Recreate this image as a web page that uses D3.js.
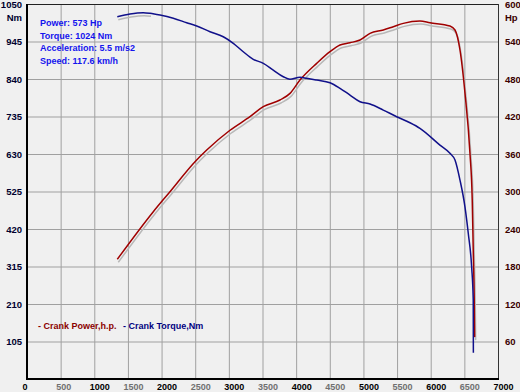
<!DOCTYPE html>
<html><head><meta charset="utf-8">
<script src="https://cdn.jsdelivr.net/npm/d3@7"></script>
<style>
body{margin:0;background:#f0f0f0;}
svg{display:block;font-family:"Liberation Sans",Arial,sans-serif;}
</style></head>
<body><svg id="c" width="520" height="392"></svg>
<script>
const rpmTicks = [0,500,1000,1500,2000,2500,3000,3500,4000,4500,5000,5500,6000,6500,7000];
const nmTicks = [105,210,315,420,525,630,735,840,945,1050];
const hpTicks = [60,120,180,240,300,360,420,480,540,600];

const powerRpm = [1342,1877,2125,2497,2671,3017,3314,3512,3760,3909,4057,4305,4503,4652,4800,4949,5098,5295,5444,5592,5840,5989,6286,6361,6435,6509,6583,6617,6632,6647,6653];
const powerHp  = [191.5,267.7,299.7,347.7,366.4,398,419.7,435.7,446.4,457,478.4,505,523.7,534.4,538,542.4,553,558.4,563.7,569,572.8,570,564.8,558.4,526.4,457.6,361.6,286.4,206.4,126.4,67];

const torqueRpm = [1342,1531,1728,1828,1977,2174,2373,2522,2720,2917,3066,3214,3363,3512,3660,3809,3908,4057,4157,4305,4503,4652,4800,4949,5098,5295,5494,5692,5840,6137,6286,6361,6435,6509,6558,6608,6632,6634];
const torqueNm  = [1014.4,1022,1025.6,1024,1019,1010,997.6,988.4,972.4,958.4,940,916.4,895.2,884,865,846.4,839,844.8,842,837,829.6,814,795,776.4,770,753,734.4,717.6,702,655,632,613,557,482,408,314.6,221,73.6];

const infoLines = ["Power: 573 Hp","Torque: 1024 Nm","Acceleration: 5.5 m/s2","Speed: 117.6 km/h"];
const legendItems = [{label:"- Crank Power,h.p.", color:"#8b0000"},{label:"- Crank Torque,Nm", color:"#000080"}];

const L=27, R=498, T=4, B=379;
const svg = d3.select("#c");
svg.append("rect").attr("width",520).attr("height",392).attr("fill","#f0f0f0");

const x = d3.scaleLinear().domain([0,7000]).range([L,R]);
const yL = d3.scaleLinear().domain([0,1050]).range([B,T]);
const yR = d3.scaleLinear().domain([0,600]).range([B,T]);

// vertical grid + bottom labels
const gx = svg.append("g").attr("transform",`translate(0,${B})`)
  .call(d3.axisBottom(x).tickValues(rpmTicks).tickSize(-(B-T)).tickFormat(d3.format("d")));
gx.select(".domain").remove();
gx.selectAll(".tick line").attr("stroke","#a0a0a0").attr("stroke-width",1);
gx.selectAll(".tick text").attr("text-anchor","start").attr("x",-5).attr("y",5).attr("dy","0.71em")
  .attr("font-size","9px").attr("font-weight","bold").attr("font-family","Liberation Sans, Arial, sans-serif")
  .attr("fill",(d,i)=> i%2===0 ? "#000" : "#707070");

// horizontal grid + left labels
const gy = svg.append("g").attr("transform",`translate(${L},0)`)
  .call(d3.axisLeft(yL).tickValues(nmTicks).tickSize(-(R-L)).tickFormat(d3.format("d")));
gy.select(".domain").remove();
gy.selectAll(".tick line").attr("stroke","#a0a0a0").attr("stroke-width",1);
gy.selectAll(".tick text").attr("x",-5).attr("font-size","9.5px").attr("font-weight","bold")
  .attr("font-family","Liberation Sans, Arial, sans-serif").attr("fill","#00002e");

// right labels
const gr = svg.append("g").attr("transform",`translate(${R},0)`)
  .call(d3.axisRight(yR).tickValues(hpTicks).tickSize(0).tickFormat(d3.format("d")));
gr.select(".domain").remove();
gr.selectAll(".tick text").attr("x",7).attr("font-size","9.5px").attr("font-weight","bold")
  .attr("font-family","Liberation Sans, Arial, sans-serif").attr("fill","#3a0000");

// unit labels
svg.append("text").attr("x",L-5).attr("y",yL(1050)+17).attr("text-anchor","end")
  .attr("font-size","9.5px").attr("font-weight","bold").attr("fill","#00002e").text("Nm");
svg.append("text").attr("x",R+7).attr("y",yR(600)+17)
  .attr("font-size","9.5px").attr("font-weight","bold").attr("fill","#3a0000").text("Hp");

// frame
svg.append("line").attr("x1",L).attr("x2",R).attr("y1",T+0.5).attr("y2",T+0.5).attr("stroke","#222");
svg.append("line").attr("x1",R+0.5).attr("x2",R+0.5).attr("y1",T).attr("y2",B).attr("stroke","#333");
svg.append("line").attr("x1",L).attr("x2",L).attr("y1",T).attr("y2",B+1).attr("stroke","#000").attr("stroke-width",2);
svg.append("line").attr("x1",L).attr("x2",R+1).attr("y1",B).attr("y2",B).attr("stroke","#000").attr("stroke-width",2);

const powerData = powerRpm.map((r,i)=>[r,powerHp[i]]);
const torqueData = torqueRpm.map((r,i)=>[r,torqueNm[i]]);
const lineP = d3.line().x(d=>x(d[0])).y(d=>yR(d[1])).curve(d3.curveMonotoneX);
const lineT = d3.line().x(d=>x(d[0])).y(d=>yL(d[1])).curve(d3.curveMonotoneX);

// shadows
svg.append("path").datum(powerData).attr("d",lineP).attr("fill","none")
  .attr("stroke","#b8b8b8").attr("stroke-width",1.5).attr("transform","translate(1,3)");
svg.append("path").datum(torqueData.filter(d=>d[0]<=1828)).attr("d",lineT).attr("fill","none")
  .attr("stroke","#b8b8b8").attr("stroke-width",1.5).attr("transform","translate(1,3)");

svg.append("path").datum(powerData).attr("d",lineP).attr("fill","none")
  .attr("stroke","#a00000").attr("stroke-width",1.5);
svg.append("path").datum(torqueData).attr("d",lineT).attr("fill","none")
  .attr("stroke","#10108a").attr("stroke-width",1.5);

// info text
svg.append("g").selectAll("text").data(infoLines).join("text")
  .attr("x",40).attr("y",(d,i)=>26+i*12.7)
  .attr("font-size","9px").attr("font-weight","bold").attr("fill","#1414ee").text(d=>d);

// legend
svg.append("g").selectAll("text").data(legendItems).join("text")
  .attr("x",(d,i)=> i===0 ? 38 : 123).attr("y",329)
  .attr("font-size","9px").attr("font-weight","bold").attr("fill",d=>d.color).text(d=>d.label);
</script></body></html>
